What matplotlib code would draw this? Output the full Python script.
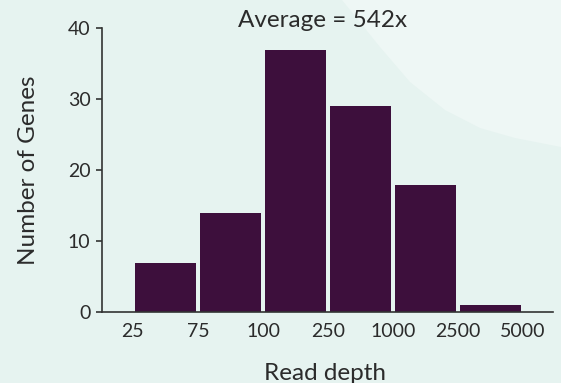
import matplotlib
matplotlib.use("Agg")
import matplotlib.pyplot as plt
from matplotlib.path import Path
from matplotlib.patches import PathPatch
import numpy as np

edge_labels = ["25", "75", "100", "250", "1000", "2500", "5000"]
counts = [7, 14, 37, 29, 18, 1]
title = "Average = 542x"

W, H = 561, 383
fig = plt.figure(figsize=(W / 100, H / 100), dpi=100)
bg = "#e6f3f0"
fig.patch.set_facecolor(bg)

# lighter background sweep in the upper right (figure pixel coords -> fraction)
def fp(x, y):
    return (x / W, 1 - y / H)

verts = [fp(342, 0), fp(380, 47), fp(410, 82), fp(445, 110), fp(480, 128),
         fp(515, 138), fp(561, 147), fp(561, 0), fp(342, 0)]
codes = [Path.MOVETO] + [Path.LINETO] * (len(verts) - 2) + [Path.CLOSEPOLY]
fig.patches.append(PathPatch(Path(verts, codes), transform=fig.transFigure,
                             facecolor="#eef7f5", edgecolor="none", zorder=-10))

plt.rcParams["font.family"] = ["Lato", "DejaVu Sans"]
txt = "#2b2b2b"

ax = fig.add_axes([101.7 / W, 1 - 312.3 / H, (553 - 101.7) / W, (312.3 - 28.3) / H])
ax.set_facecolor("none")

x = np.arange(len(counts)) + 0.5
ax.bar(x, counts, width=0.94, color="#3d0f3c", zorder=2)

ax.set_xlim(-0.48, 6.46)
ax.set_ylim(0, 40)
ax.set_yticks([0, 10, 20, 30, 40])
ax.set_xticks(np.arange(len(edge_labels)))
ax.set_xticklabels(edge_labels)

for s in ["top", "right"]:
    ax.spines[s].set_visible(False)
for s in ["left", "bottom"]:
    ax.spines[s].set_color("#333333")
    ax.spines[s].set_linewidth(1.2)

ax.tick_params(axis="x", length=0, pad=8, labelsize=14, colors=txt)
ax.tick_params(axis="y", length=4, width=1.2, color="#333333", pad=4,
               labelsize=14, labelcolor=txt)

fig.text(323 / W, 1 - 27 / H, title, ha="center", va="baseline",
         fontsize=17.5, color=txt)
fig.text(325 / W, 1 - 380 / H, "Read depth", ha="center", va="baseline",
         fontsize=17.5, color=txt)
fig.text(29 / W, 1 - 170 / H, "Number of Genes", ha="center", va="center",
         rotation=90, fontsize=17.5, color=txt)

fig.savefig("out.png", dpi=100, facecolor=bg)
